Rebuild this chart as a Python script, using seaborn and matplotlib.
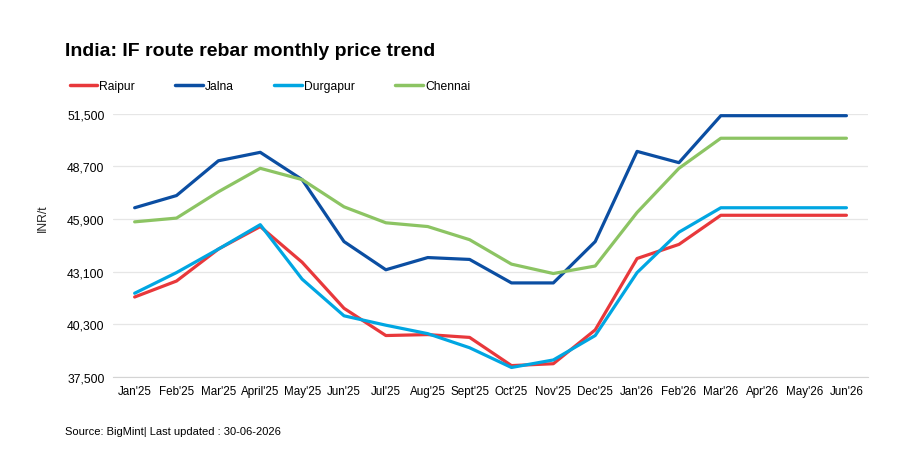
import matplotlib
matplotlib.use("Agg")
import matplotlib.pyplot as plt
import seaborn as sns
import pandas as pd

# --- data (INR/t) ---------------------------------------------------------
months = ["Jan'25", "Feb'25", "Mar'25", "April'25", "May'25", "Jun'25", "Jul'25",
          "Aug'25", "Sept'25", "Oct'25", "Nov'25", "Dec'25", "Jan'26", "Feb'26",
          "Mar'26", "Apr'26", "May'26", "Jun'26"]
raipur = [41750, 42600, 44300, 45500, 43600, 41150, 39700, 39750, 39600, 38100,
          38200, 40000, 43800, 44550, 46100, 46100, 46100, 46100]
jalna = [46500, 47150, 49000, 49450, 48000, 44700, 43200, 43850, 43750, 42500,
         42500, 44700, 49500, 48900, 51400, 51400, 51400, 51400]
durgapur = [41950, 43050, 44300, 45600, 42700, 40750, 40250, 39800, 39050, 38000,
            38400, 39700, 43050, 45200, 46500, 46500, 46500, 46500]
chennai = [45750, 45950, 47350, 48600, 48000, 46550, 45700, 45500, 44800, 43500,
           43000, 43400, 46250, 48600, 50200, 50200, 50200, 50200]
yticks = [37500, 40300, 43100, 45900, 48700, 51500]

series = {"Raipur": raipur, "Jalna": jalna, "Durgapur": durgapur, "Chennai": chennai}
colors = {"Raipur": "#E8383B", "Jalna": "#0B4EA2", "Durgapur": "#00A6E2", "Chennai": "#8CC463"}

df = pd.concat(
    [pd.DataFrame({"month": months, "price": vals, "city": name}) for name, vals in series.items()],
    ignore_index=True,
)

sns.set_style("white")
plt.rcParams["font.family"] = ["Liberation Sans", "DejaVu Sans"]
plt.rcParams["text.color"] = "black"

fig = plt.figure(figsize=(9.03, 4.52), dpi=100)
ax = fig.add_axes([0.125, 0.164, 0.836, 0.582])

sns.lineplot(data=df, x="month", y="price", hue="city", palette=colors,
             linewidth=2.3, ax=ax, legend=False, sort=False)

ax.set_ylim(37500, 51500)
ax.set_xlim(-0.52, len(months) - 0.49)
ax.set_yticks(yticks)
ax.set_yticklabels([f"{v:,}" for v in yticks], fontsize=8.7)
ax.set_xticks(range(len(months)))
ax.set_xticklabels(months, fontsize=8.4)
ax.tick_params(axis="both", length=0, pad=6, labelcolor="black")
ax.yaxis.grid(True, color="#e6e6e6", linewidth=0.9)
ax.set_axisbelow(True)
for s in ["top", "right", "left"]:
    ax.spines[s].set_visible(False)
ax.spines["bottom"].set_color("#d4d4d4")
ax.set_xlabel("")
ax.set_ylabel("INR/t", fontsize=8.7)
ax.yaxis.set_label_coords(-0.085, 0.608)

# legend
handles = [plt.Line2D([0], [0], color=colors[n], linewidth=2.5) for n in series]
fig.legend(handles, list(series), loc="center left", bbox_to_anchor=(0.065, 0.808),
           ncol=4, frameon=False, fontsize=8.7, handlelength=2.3,
           handletextpad=0.15, columnspacing=3.35)

fig.text(0.072, 0.887, "India: IF route rebar monthly price trend",
         fontsize=14, fontweight="bold", va="center", ha="left")
fig.text(0.072, 0.044, "Source: BigMint| Last updated : 30-06-2026",
         fontsize=8, va="center", ha="left")

fig.savefig("out.png", dpi=100)
